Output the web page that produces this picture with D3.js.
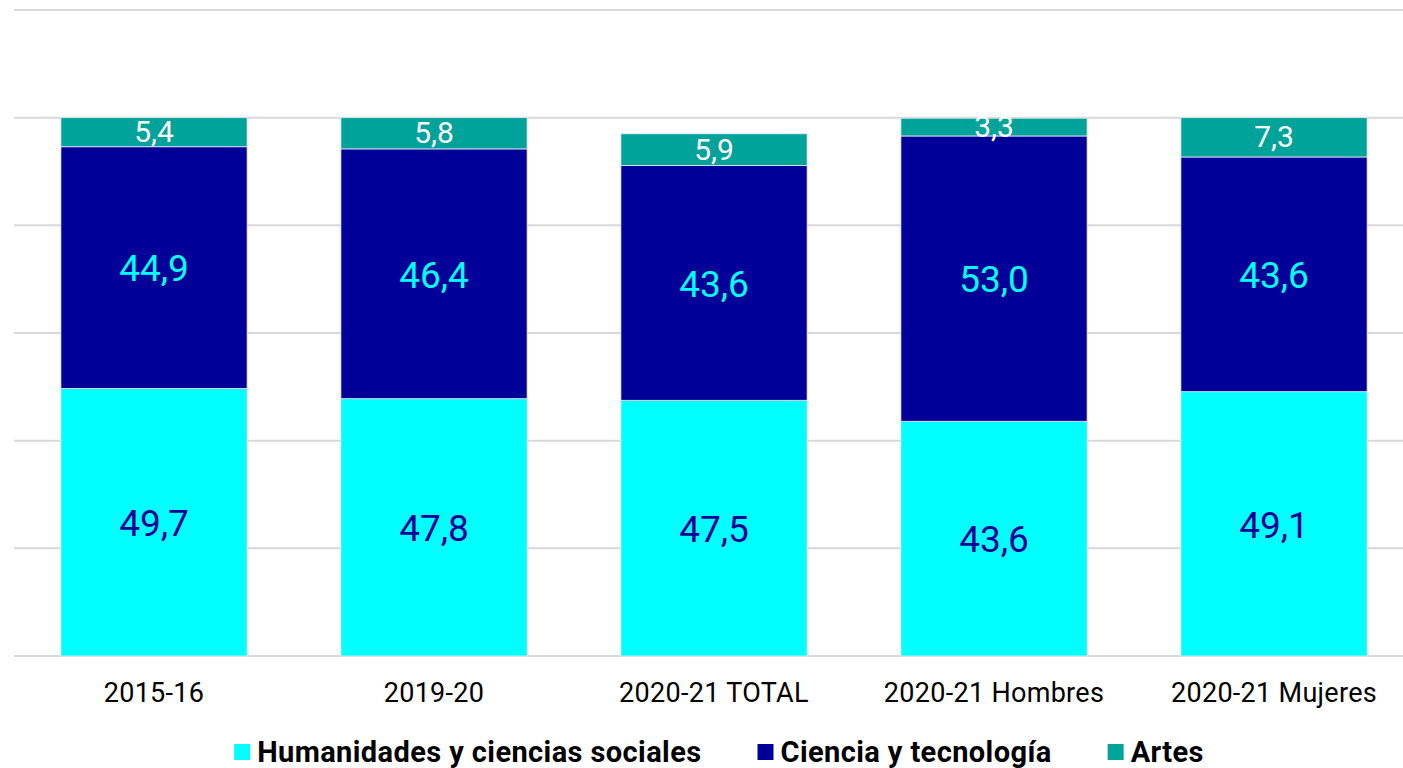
<!DOCTYPE html>
<html>
<head>
<meta charset="utf-8">
<script src="https://cdn.jsdelivr.net/npm/d3@7"></script>
<style>
  html, body { margin: 0; padding: 0; background: #fff; }
  svg { display: block; font-family: Roboto, "Open Sans", sans-serif; }
</style>
</head>
<body>
<div id="chart"></div>
<script>
// categorias y series (porcentajes)
const categories = ['2015-16', '2019-20', '2020-21 TOTAL', '2020-21 Hombres', '2020-21 Mujeres'];
const seriesNames = ['Humanidades y ciencias sociales', 'Ciencia y tecnología', 'Artes'];
const humanidades = [49.7, 47.8, 47.5, 43.6, 49.1];
const ciencia = [44.9, 46.4, 43.6, 53.0, 43.6];
const artes = [5.4, 5.8, 5.9, 3.3, 7.3];
const yTicks = [0, 20, 40, 60, 80, 100, 120];

const colors = ['#00ffff', '#000099', '#00a39a'];
const labelColors = ['#000099', '#00ffff', '#ffffff'];
const labelSizes = [37, 37, 30];

const width = 1403, height = 768;
const margin = { top: 10, left: 14, bottom: 112 };
const plotW = 1400;

const svg = d3.select('#chart').append('svg')
  .attr('width', width)
  .attr('height', height);

const x = d3.scaleBand()
  .domain(categories)
  .range([margin.left, margin.left + plotW])
  .paddingInner(0.335)
  .paddingOuter(0.1675);

const y = d3.scaleLinear()
  .domain([0, 120])
  .range([height - margin.bottom, margin.top]);

// gridlines
svg.append('g')
  .selectAll('line')
  .data(yTicks)
  .enter().append('line')
  .attr('x1', margin.left)
  .attr('x2', width)
  .attr('y1', d => y(d))
  .attr('y2', d => y(d))
  .attr('stroke', '#d9d9d9')
  .attr('stroke-width', 2);

const rows = categories.map((c, i) => ({
  cat: c, h: humanidades[i], c2: ciencia[i], a: artes[i]
}));
const stack = d3.stack().keys(['h', 'c2', 'a'])(rows);

const layers = svg.append('g')
  .selectAll('g')
  .data(stack)
  .enter().append('g')
  .attr('fill', (d, i) => colors[i]);

layers.selectAll('rect')
  .data(d => d)
  .enter().append('rect')
  .attr('x', d => x(d.data.cat))
  .attr('width', x.bandwidth())
  .attr('y', d => y(d[1]))
  .attr('height', d => y(d[0]) - y(d[1]))
  .attr('stroke', '#e8e8f4')
  .attr('stroke-width', 0.8);

// etiquetas de valores
stack.forEach((layer, i) => {
  svg.append('g')
    .selectAll('text')
    .data(layer)
    .enter().append('text')
    .attr('x', d => x(d.data.cat) + x.bandwidth() / 2)
    .attr('y', d => (y(d[0]) + y(d[1])) / 2 + (i == 2 ? 2 : 4))
    .attr('text-anchor', 'middle')
    .attr('dominant-baseline', 'middle')
    .attr('fill', labelColors[i])
    .style('font-size', labelSizes[i] + 'px')
    .text(d => d3.format('.1f')(d[1] - d[0]).replace('.', ','));
});

// eje x
svg.append('g')
  .selectAll('text')
  .data(categories)
  .enter().append('text')
  .attr('x', d => x(d) + x.bandwidth() / 2)
  .attr('y', 702)
  .attr('text-anchor', 'middle')
  .attr('fill', '#000')
  .style('font-size', '27px')
  .style('letter-spacing', '0.3px')
  .text(d => d);

// leyenda
const legend = svg.append('g');
const items = legend.selectAll('g')
  .data(seriesNames)
  .enter().append('g');
items.append('rect')
  .attr('width', 16).attr('height', 16)
  .attr('y', 744)
  .attr('fill', (d, i) => colors[i]);
items.append('text')
  .attr('x', 23)
  .attr('y', 762)
  .attr('fill', '#000')
  .style('font-size', '29px')
  .style('font-weight', 'bold')
  .style('letter-spacing', '0.4px')
  .text(d => d);

const gap = 56;
let widths = [];
items.each(function () {
  widths.push(23 + d3.select(this).select('text').node().getComputedTextLength());
});
const total = d3.sum(widths) + gap * (widths.length - 1);
let cx = 719 - total / 2;
items.each(function (d, i) {
  d3.select(this).attr('transform', 'translate(' + cx + ',0)');
  cx += widths[i] + gap;
});
</script>
</body>
</html>
